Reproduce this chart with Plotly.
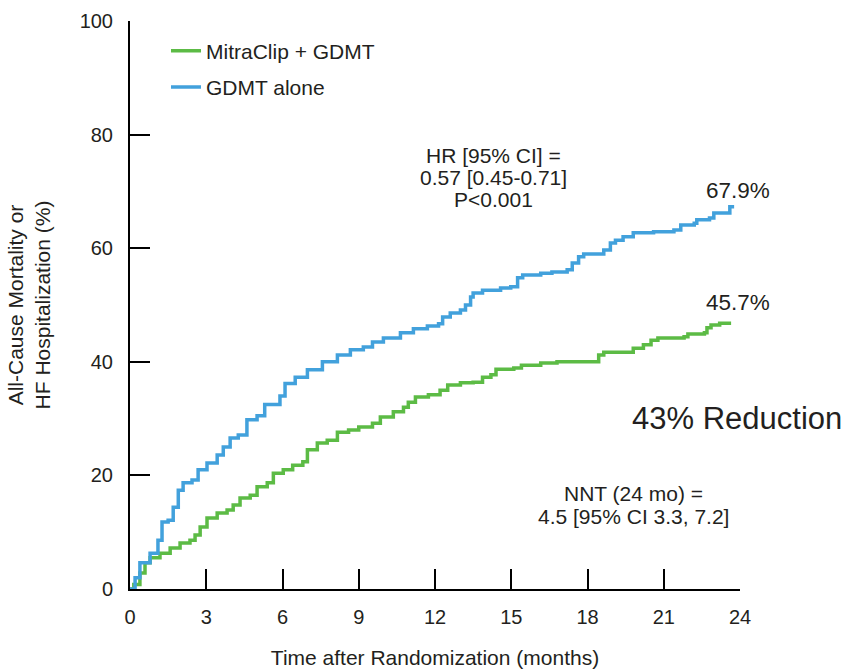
import plotly.graph_objects as go

# GDMT alone (blue)
gdmt_x = [0, 0.2, 0.39, 0.79, 1.1, 1.26, 1.5, 1.7, 1.9, 2.09, 2.44, 2.68, 3.03, 3.43, 3.67, 3.94, 4.26, 4.6,
          5.0, 5.3, 5.9, 6.1, 6.5, 6.98, 7.57, 8.16, 8.67, 9.18, 9.54, 9.97, 10.64, 11.15, 11.7, 12.14, 12.3,
          12.6, 13.0, 13.2, 13.4, 13.5, 13.87, 14.58, 14.98, 15.25, 15.45, 16.16, 16.6, 17.2, 17.4, 17.65,
          17.85, 18.44, 18.64, 18.9, 19.1, 19.4, 19.8, 20.6, 21.4, 21.67, 22.2, 22.3, 22.8, 22.97, 23.5, 23.6, 23.7]
gdmt_y = [0, 2.0, 4.6, 6.3, 8.6, 11.8, 12.1, 14.4, 17.4, 18.7, 19.2, 21.0, 22.2, 23.6, 25.0, 26.6, 27.1, 29.8,
          30.5, 32.5, 34.0, 36.2, 37.3, 38.6, 40.0, 41.2, 42.1, 42.6, 43.5, 44.2, 45.1, 45.8, 46.3, 46.7, 47.9,
          48.6, 49.1, 50.0, 51.4, 52.1, 52.6, 53.0, 53.2, 54.8, 55.3, 55.6, 55.8, 56.2, 57.4, 58.5,
          59.0, 59.0, 59.7, 60.9, 61.4, 62.0, 62.7, 62.9, 63.2, 64.1, 64.4, 65.0, 65.3, 66.2, 66.2, 67.3, 67.6]

# MitraClip + GDMT (green)
clip_x = [0, 0.15, 0.39, 0.59, 0.79, 1.18, 1.58, 1.97, 2.36, 2.56, 2.76, 3.03, 3.43, 3.82, 4.06, 4.33, 4.73,
          5.0, 5.4, 5.64, 6.03, 6.4, 6.8, 6.98, 7.37, 7.76, 8.16, 8.6, 9.0, 9.54, 9.85, 10.36, 10.76, 10.95,
          11.23, 11.74, 12.2, 12.5, 13.0, 13.5, 13.87, 14.2, 14.4, 15.1, 15.4, 16.0, 16.16, 16.8, 18.25,
          18.44, 18.64, 19.6, 19.8, 20.2, 20.5, 20.77, 21.8, 21.95, 22.6, 22.7, 22.86, 23.2, 23.65]
clip_y = [0, 0.8, 2.8, 4.6, 5.5, 6.3, 7.2, 8.1, 8.6, 9.5, 10.9, 12.5, 13.4, 13.9, 14.8, 16.0, 16.5,
          18.0, 18.7, 20.4, 21.0, 21.8, 22.4, 24.5, 25.7, 26.2, 27.6, 28.0, 28.5, 29.2, 30.3, 31.2, 32.0, 32.9,
          33.8, 34.2, 35.0, 35.9, 36.3, 36.4, 37.3, 37.7, 38.7, 38.9, 39.4, 39.4, 39.8, 40.0, 40.0,
          41.2, 41.7, 41.7, 42.4, 43.0, 43.8, 44.2, 44.4, 44.9, 45.1, 46.0, 46.5, 46.8, 46.8]

x_ticks = [0, 3, 6, 9, 12, 15, 18, 21, 24]
y_ticks = [0, 20, 40, 60, 80, 100]

GREEN = "#5cbb45"
BLUE = "#42a1dc"
FONT = "Liberation Sans, Arial, sans-serif"
TXT = "#231f20"

fig = go.Figure()
fig.add_trace(go.Scatter(x=clip_x, y=clip_y, mode="lines", line=dict(color=GREEN, width=3.5, shape="hv"),
                         name="MitraClip + GDMT", legendgroup="a", cliponaxis=False))
fig.add_trace(go.Scatter(x=gdmt_x, y=gdmt_y, mode="lines", line=dict(color=BLUE, width=3.5, shape="hv"),
                         name="GDMT alone", legendgroup="b", cliponaxis=False))

ann = [
    dict(x=14.3, y=76.4, text="HR [95% CI] =", size=21),
    dict(x=14.3, y=72.5, text="0.57 [0.45-0.71]", size=21),
    dict(x=14.3, y=68.5, text="P<0.001", size=21),
    dict(x=23.92, y=70.2, text="67.9%", size=22.5),
    dict(x=23.92, y=50.4, text="45.7%", size=22.5),
    dict(x=23.9, y=30.1, text="43% Reduction", size=31),
    dict(x=19.8, y=16.9, text="NNT (24 mo) =", size=21),
    dict(x=19.8, y=12.7, text="4.5 [95% CI 3.3, 7.2]", size=21),
]
for a in ann:
    fig.add_annotation(xref="x", yref="y", x=a["x"], y=a["y"], text=a["text"], showarrow=False,
                       align="center", font=dict(size=a["size"], color=TXT))

fig.update_layout(
    width=855, height=669,
    margin=dict(l=130, r=115, t=21, b=80),
    plot_bgcolor="white", paper_bgcolor="white",
    font=dict(family=FONT, color=TXT, size=20),
    showlegend=True,
    legend=dict(x=0.059, y=0.983, xanchor="left", yanchor="top", font=dict(size=21, color=TXT),
                bgcolor="rgba(0,0,0,0)", itemwidth=30, tracegroupgap=6),
    xaxis=dict(range=[0, 24], tickvals=x_ticks, ticks="inside", ticklen=20, tickwidth=2, tickcolor="black",
               showline=True, linecolor="black", linewidth=2, showgrid=False, zeroline=False,
               tickfont=dict(size=20, color=TXT), ticklabelstandoff=9, automargin=False,
               title=dict(text="Time after Randomization (months)", font=dict(size=21, color=TXT), standoff=28)),
    yaxis=dict(range=[0, 100], tickvals=y_ticks, ticks="inside", ticklen=20, tickwidth=2, tickcolor="black",
               showline=True, linecolor="black", linewidth=2, showgrid=False, zeroline=False,
               tickfont=dict(size=20, color=TXT), ticklabelstandoff=11, automargin=False,
               title=dict(text="All-Cause Mortality or<br>HF Hospitalization (%)", font=dict(size=21, color=TXT),
                          standoff=23)),
)

fig.write_html("out.html")
